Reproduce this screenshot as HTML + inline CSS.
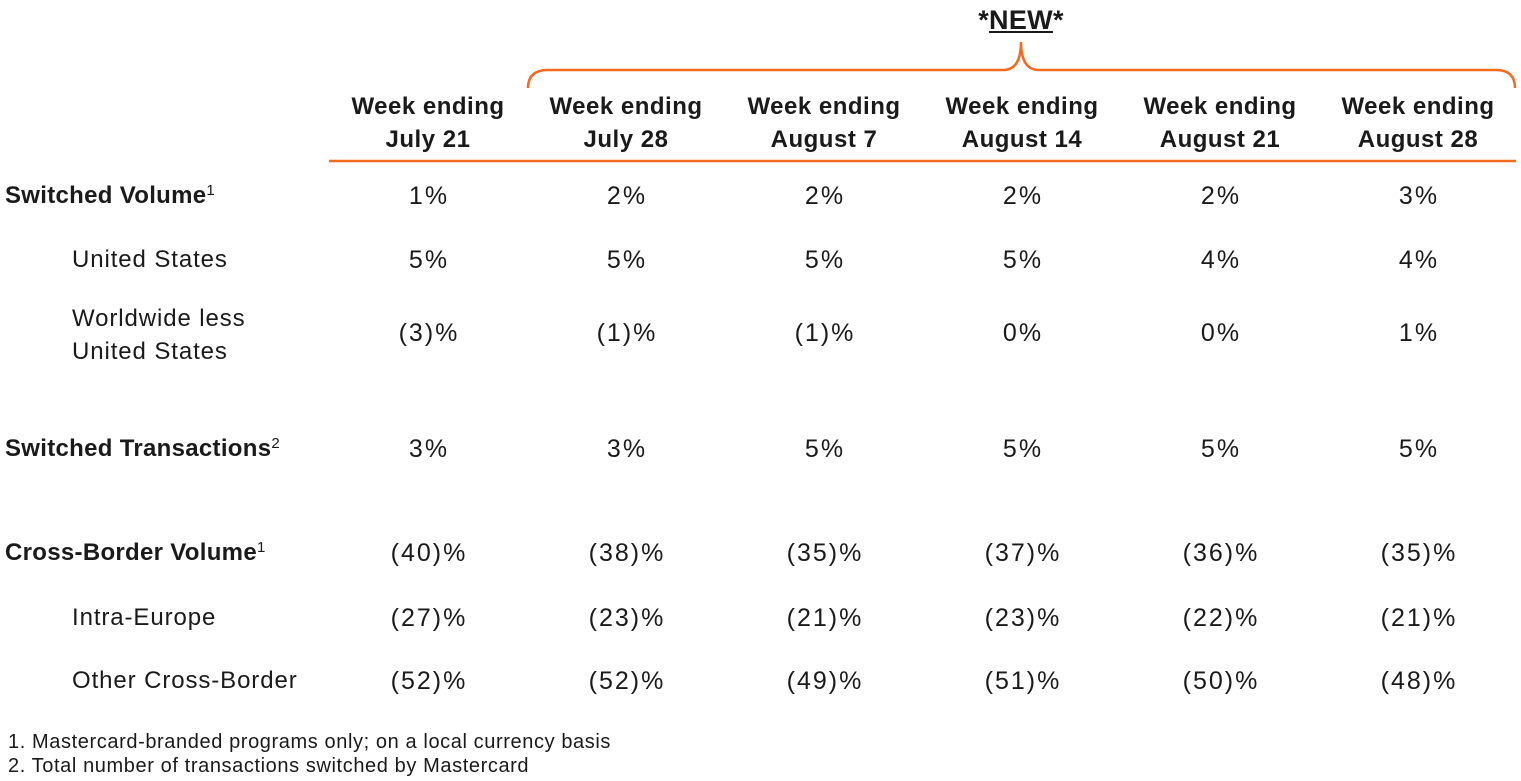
<!DOCTYPE html>
<html><head><meta charset="utf-8"><style>
body{margin:0;width:1521px;height:781px;background:#fff;position:relative;overflow:hidden;font-family:"Liberation Sans",sans-serif;color:#1a1a1a}
.t{position:absolute;white-space:nowrap;line-height:30px;height:30px}
.c{width:198px;text-align:center;font-size:25px;letter-spacing:2px;text-indent:2px}
.h{width:198px;text-align:center;font-size:24px;font-weight:bold;line-height:33px;height:66px;letter-spacing:0.5px}
.b{font-size:24px;font-weight:bold;letter-spacing:0.3px}
.s{font-size:24px;letter-spacing:0.9px}
.f{font-size:20px;line-height:22px;height:22px;letter-spacing:0.6px}
sup{font-size:15px;font-weight:normal;vertical-align:8px;line-height:0}
</style></head><body>
<svg style="position:absolute;left:0;top:0" width="1521" height="781">
<path d="M528 88 Q528 70 548 70 L1003 70 Q1021 70 1021 42 Q1021 70 1039 70 L1496 70 Q1515 70 1515 88" fill="none" stroke="#F26B21" stroke-width="2.5"/>
<line x1="329" y1="161" x2="1516" y2="161" stroke="#F26B21" stroke-width="2.5"/>
</svg>
<div class="t b" style="left:921px;width:200px;text-align:center;top:5px;font-size:27px">*<u>NEW</u>*</div>

<div class="t h" style="left:329px;top:90px">Week ending<br>July 21</div>
<div class="t h" style="left:527px;top:90px">Week ending<br>July 28</div>
<div class="t h" style="left:725px;top:90px">Week ending<br>August 7</div>
<div class="t h" style="left:923px;top:90px">Week ending<br>August 14</div>
<div class="t h" style="left:1121px;top:90px">Week ending<br>August 21</div>
<div class="t h" style="left:1319px;top:90px">Week ending<br>August 28</div>

<div class="t b" style="left:5px;top:181px">Switched Volume<sup>1</sup></div>
<div class="t s" style="left:72px;top:245px">United States</div>
<div class="t s" style="left:72px;top:302px;line-height:33px;height:66px">Worldwide less<br>United States</div>
<div class="t b" style="left:5px;top:434px">Switched Transactions<sup>2</sup></div>
<div class="t b" style="left:5px;top:538px">Cross-Border Volume<sup>1</sup></div>
<div class="t s" style="left:72px;top:603px">Intra-Europe</div>
<div class="t s" style="left:72px;top:666px">Other Cross-Border</div>

<div class="t c" style="left:329px;top:181px">1%</div><div class="t c" style="left:527px;top:181px">2%</div><div class="t c" style="left:725px;top:181px">2%</div><div class="t c" style="left:923px;top:181px">2%</div><div class="t c" style="left:1121px;top:181px">2%</div><div class="t c" style="left:1319px;top:181px">3%</div>
<div class="t c" style="left:329px;top:245px">5%</div><div class="t c" style="left:527px;top:245px">5%</div><div class="t c" style="left:725px;top:245px">5%</div><div class="t c" style="left:923px;top:245px">5%</div><div class="t c" style="left:1121px;top:245px">4%</div><div class="t c" style="left:1319px;top:245px">4%</div>
<div class="t c" style="left:329px;top:318px">(3)%</div><div class="t c" style="left:527px;top:318px">(1)%</div><div class="t c" style="left:725px;top:318px">(1)%</div><div class="t c" style="left:923px;top:318px">0%</div><div class="t c" style="left:1121px;top:318px">0%</div><div class="t c" style="left:1319px;top:318px">1%</div>
<div class="t c" style="left:329px;top:434px">3%</div><div class="t c" style="left:527px;top:434px">3%</div><div class="t c" style="left:725px;top:434px">5%</div><div class="t c" style="left:923px;top:434px">5%</div><div class="t c" style="left:1121px;top:434px">5%</div><div class="t c" style="left:1319px;top:434px">5%</div>
<div class="t c" style="left:329px;top:538px">(40)%</div><div class="t c" style="left:527px;top:538px">(38)%</div><div class="t c" style="left:725px;top:538px">(35)%</div><div class="t c" style="left:923px;top:538px">(37)%</div><div class="t c" style="left:1121px;top:538px">(36)%</div><div class="t c" style="left:1319px;top:538px">(35)%</div>
<div class="t c" style="left:329px;top:603px">(27)%</div><div class="t c" style="left:527px;top:603px">(23)%</div><div class="t c" style="left:725px;top:603px">(21)%</div><div class="t c" style="left:923px;top:603px">(23)%</div><div class="t c" style="left:1121px;top:603px">(22)%</div><div class="t c" style="left:1319px;top:603px">(21)%</div>
<div class="t c" style="left:329px;top:666px">(52)%</div><div class="t c" style="left:527px;top:666px">(52)%</div><div class="t c" style="left:725px;top:666px">(49)%</div><div class="t c" style="left:923px;top:666px">(51)%</div><div class="t c" style="left:1121px;top:666px">(50)%</div><div class="t c" style="left:1319px;top:666px">(48)%</div>

<div class="t f" style="left:8px;top:731px">1. Mastercard-branded programs only; on a local currency basis</div>
<div class="t f" style="left:8px;top:755px">2. Total number of transactions switched by Mastercard</div>
</body></html>
